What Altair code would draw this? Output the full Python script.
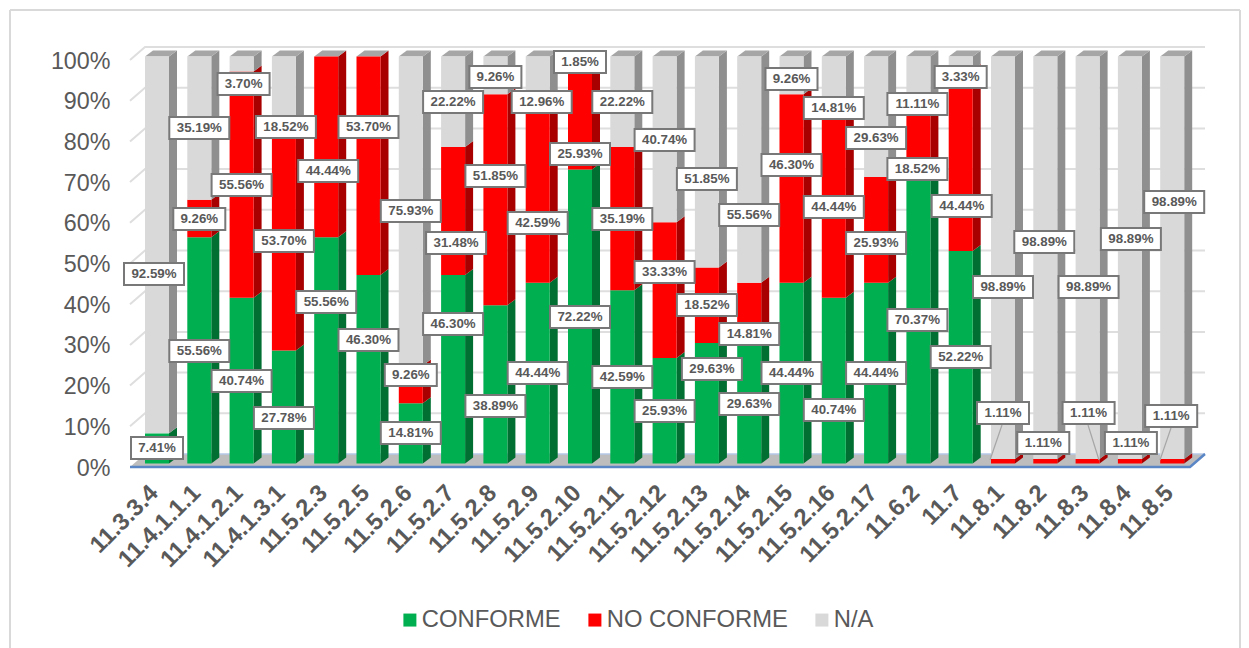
import json
import altair as alt
import pandas as pd

CATEGORIES = ["11.3.3.4", "11.4.1.1.1", "11.4.1.2.1", "11.4.1.3.1", "11.5.2.3", "11.5.2.5", "11.5.2.6",
              "11.5.2.7", "11.5.2.8", "11.5.2.9", "11.5.2.10", "11.5.2.11", "11.5.2.12", "11.5.2.13",
              "11.5.2.14", "11.5.2.15", "11.5.2.16", "11.5.2.17", "11.6.2", "11.7", "11.8.1", "11.8.2",
              "11.8.3", "11.8.4", "11.8.5"]
CONFORME = [7.41, 55.56, 40.74, 27.78, 55.56, 46.30, 14.81, 46.30, 38.89, 44.44, 72.22, 42.59, 25.93,
            29.63, 29.63, 44.44, 40.74, 44.44, 70.37, 52.22, 0, 0, 0, 0, 0]
NO_CONFORME = [0, 9.26, 55.56, 53.70, 44.44, 53.70, 9.26, 31.48, 51.85, 42.59, 25.93, 35.19, 33.33,
               18.52, 14.81, 46.30, 44.44, 25.93, 18.52, 44.44, 1.11, 1.11, 1.11, 1.11, 1.11]
NA = [92.59, 35.19, 3.70, 18.52, 0, 0, 75.93, 22.22, 9.26, 12.96, 1.85, 22.22, 40.74, 51.85, 55.56,
      9.26, 14.81, 29.63, 11.11, 3.33, 98.89, 98.89, 98.89, 98.89, 98.89]
SERIES = ["CONFORME", "NO CONFORME", "N/A"]
VALUES = [CONFORME, NO_CONFORME, NA]

# Where each hand-moved label sits (page row of its centre), per series
LABEL_ROW_C = [448, 351, 381, 418, 302, 340, 433, 324, 406, 373, 317, 377, 411, 369, 404, 373, 410, 373,
               320, 357, 0, 0, 0, 0, 0]
LABEL_ROW_N = [0, 219, 185, 241, 171, 127, 375, 243, 176, 223, 154, 219, 272, 305, 334, 165, 207, 243,
               169, 206, 413, 443, 413, 443, 416]
LABEL_ROW_A = [274, 128, 84, 127, 0, 0, 211, 102, 77, 102, 62, 102, 140, 179, 215, 79, 108, 138, 104, 77,
               287, 242, 287, 239, 202]
LABEL_ROWS = [LABEL_ROW_C, LABEL_ROW_N, LABEL_ROW_A]
LABEL_SHIFT = {(0, 2): -3, (2, 2): 2, (3, 2): 2, (4, 1): 2, (5, 2): 7, (7, 1): 3, (9, 2): 4, (13, 0): 5,
               (18, 0): -1, (18, 1): -1, (18, 2): -1, (19, 1): 1, (21, 1): -2, (21, 2): -1, (22, 1): 1,
               (22, 2): 1, (23, 1): 1, (23, 2): 1, (24, 1): -1, (24, 2): 2}
LEADERS = [(1002, 425, 990), (1088, 425, 1099), (1171, 428, 1160)]

PX_X = 42.3           # pixels per category
PX_Y = 4.07           # pixels per percentage point
X0, Y0 = 130, 467     # page position of the front-left axis corner
DOM_X = [(130 - 157) / PX_X, (1190 - 157) / PX_X]
HALF = 12 / PX_X
DEPTH_X = 8 / PX_X
DEPTH_Y = 6 / PX_Y
LIFT = 3.5 / PX_Y
BACK_X = 15 / PX_X
BACK_Y = 13 / PX_Y

COLORS = ["#00B050", "#FF0000", "#D9D9D9"]
SIDE = ["#006F31", "#A80000", "#8F8F8F"]
TOP_COLOR = "#A6A6A6"
TXT = "#595959"
FONT = "Liberation Sans"

x_s = alt.Scale(domain=DOM_X, nice=False, zero=False)
y_s = alt.Scale(domain=[0, 100], nice=False, zero=False)
X = lambda f: alt.X(f, type="quantitative", scale=x_s, title=None)
Y = lambda f: alt.Y(f, type="quantitative", scale=y_s, title=None)

front, side, top = [], [], []
for i in range(len(CATEGORIES)):
    base = LIFT
    l, r = i - HALF, i + HALF
    for s, name in enumerate(SERIES):
        v = VALUES[s][i]
        if v > 0:
            a, b = base, base + v
            front.append(dict(series=name, l=l, r=r, a=a, b=b))
            side += [dict(s=s, key=f"{i}-{s}", x=r, a=a, b=b),
                     dict(s=s, key=f"{i}-{s}", x=r + DEPTH_X, a=a + DEPTH_Y, b=b + DEPTH_Y)]
            base = b
    top += [dict(key=i, y=base, l=l, r=r), dict(key=i, y=base + DEPTH_Y, l=l + DEPTH_X, r=r + DEPTH_X)]
front, side, top = pd.DataFrame(front), pd.DataFrame(side), pd.DataFrame(top)

# back wall: gridlines with their diagonal return to the axis
grid = []
for v in range(10, 101, 10):
    grid += [dict(k=v, x=DOM_X[0], y=v), dict(k=v, x=DOM_X[0] + BACK_X, y=v + BACK_Y),
             dict(k=v, x=DOM_X[1] + BACK_X, y=v + BACK_Y)]
grid = pd.DataFrame(grid)
grid_layer = alt.Chart(grid).mark_line(color="#DEDEDE", strokeWidth=2).encode(X("x"), Y("y"), detail="k:N")

floor = pd.DataFrame([dict(y=0, l=DOM_X[0], r=DOM_X[1]), dict(y=BACK_Y, l=DOM_X[0] + BACK_X, r=DOM_X[1] + BACK_X)])
floor_layer = alt.Chart(floor).mark_area(orient="horizontal", color="#BDBDBD").encode(x=X("l"), x2="r", y=Y("y"))
edge_back = alt.Chart(pd.DataFrame([dict(x=DOM_X[0] + BACK_X, y=BACK_Y), dict(x=DOM_X[1] + BACK_X, y=BACK_Y)])).mark_line(
    color="#B4C7E7", strokeWidth=1.5).encode(X("x"), Y("y"))
edge_front = alt.Chart(pd.DataFrame([dict(x=DOM_X[0], y=0), dict(x=DOM_X[1], y=0),
                                     dict(x=DOM_X[1] + BACK_X, y=BACK_Y)])).mark_line(
    color="#5B86C6", strokeWidth=2.5).encode(X("x"), Y("y"))

layers = [grid_layer, floor_layer, edge_back, edge_front]
for s in range(3):
    layers.append(alt.Chart(side[side.s == s]).mark_area(color=SIDE[s], opacity=1).encode(
        X("x"), Y("a"), y2="b", detail="key:N"))
layers.append(alt.Chart(top).mark_area(orient="horizontal", color=TOP_COLOR, opacity=1).encode(
    x=X("l"), x2="r", y=Y("y"), detail="key:N"))

bars = alt.Chart(front).mark_rect().encode(
    x=alt.X("l:Q", scale=x_s, title=None, axis=alt.Axis(
        values=list(range(len(CATEGORIES))), labelExpr=f"{json.dumps(CATEGORIES)}[datum.value]",
        labelAngle=-45, labelAlign="right", labelBaseline="middle", labelFontSize=23.8, labelFontWeight="bold",
        labelColor=TXT, labelFont=FONT, labelPadding=22, labelOffset=-3, labelOverlap=False, labelFlush=False,
        domain=False, ticks=False, grid=False)),
    x2="r",
    y=alt.Y("a:Q", scale=y_s, title=None, axis=alt.Axis(
        values=list(range(0, 101, 10)), labelExpr="datum.value + '%'", labelFontSize=23.3, labelColor=TXT,
        labelFont=FONT, labelPadding=20, labelOffset=1, labelOverlap=False, labelFlush=False, domain=False,
        ticks=False, grid=False)),
    y2="b",
    color=alt.Color("series:N", scale=alt.Scale(domain=SERIES, range=COLORS), title=None,
                    legend=alt.Legend(orient="none", legendX=268, legendY=548, direction="horizontal",
                                      symbolType="square", symbolSize=169, symbolStrokeWidth=0, labelFontSize=23.8,
                                      labelColor=TXT, labelFont=FONT, labelOffset=0, columnPadding=22,
                                      padding=0, labelLimit=300)),
)
layers.append(bars)

labels = []
for s in range(3):
    for i, v in enumerate(VALUES[s]):
        if v > 0:
            labels.append(dict(x=i + LABEL_SHIFT.get((i, s), 0) / PX_X, y=(Y0 - LABEL_ROWS[s][i]) / PX_Y,
                               txt=f"{v:.2f}%", long=len(f"{v:.2f}%") > 5))
labels = pd.DataFrame(labels)

lead = pd.DataFrame([dict(x=(a - 157) / PX_X, y=(Y0 - r) / PX_Y, x2=(c - 157) / PX_X, y2=(Y0 - 460) / PX_Y)
                     for a, r, c in LEADERS])
layers.append(alt.Chart(lead).mark_rule(color="#A6A6A6", strokeWidth=1.2).encode(X("x"), Y("y"), x2="x2", y2="y2"))

box = dict(color="white", stroke="#787878", strokeWidth=2, height=22)
layers.append(alt.Chart(labels[labels.long]).mark_rect(width=60, **box).encode(X("x"), Y("y")))
layers.append(alt.Chart(labels[~labels.long]).mark_rect(width=52, **box).encode(X("x"), Y("y")))
layers.append(alt.Chart(labels).mark_text(font=FONT, fontSize=13.3, fontWeight="bold", color=TXT, baseline="middle",
                                          align="center").encode(X("x"), Y("y"), text="txt:N"))

# outer chart frame, open at the bottom of the window
frame = dict(color="#D9D9D9", strokeWidth=2)
dummy = pd.DataFrame([dict(a=0)])
layers.append(alt.Chart(dummy).mark_rule(**frame).encode(x=alt.value(-120), y=alt.value(-50), y2=alt.value(590)))
layers.append(alt.Chart(dummy).mark_rule(**frame).encode(x=alt.value(1110), y=alt.value(-50), y2=alt.value(590)))
layers.append(alt.Chart(dummy).mark_rule(**frame).encode(x=alt.value(-120), x2=alt.value(1110), y=alt.value(-50)))

chart = alt.layer(*layers).properties(
    width=1060, height=407,
    padding=dict(left=122, top=52, right=51, bottom=181),
    autosize=alt.AutoSizeParams(type="none"),
    background="white",
).configure_view(strokeWidth=0)

chart.save("out.html", embed_options={"renderer": "svg", "actions": False})
